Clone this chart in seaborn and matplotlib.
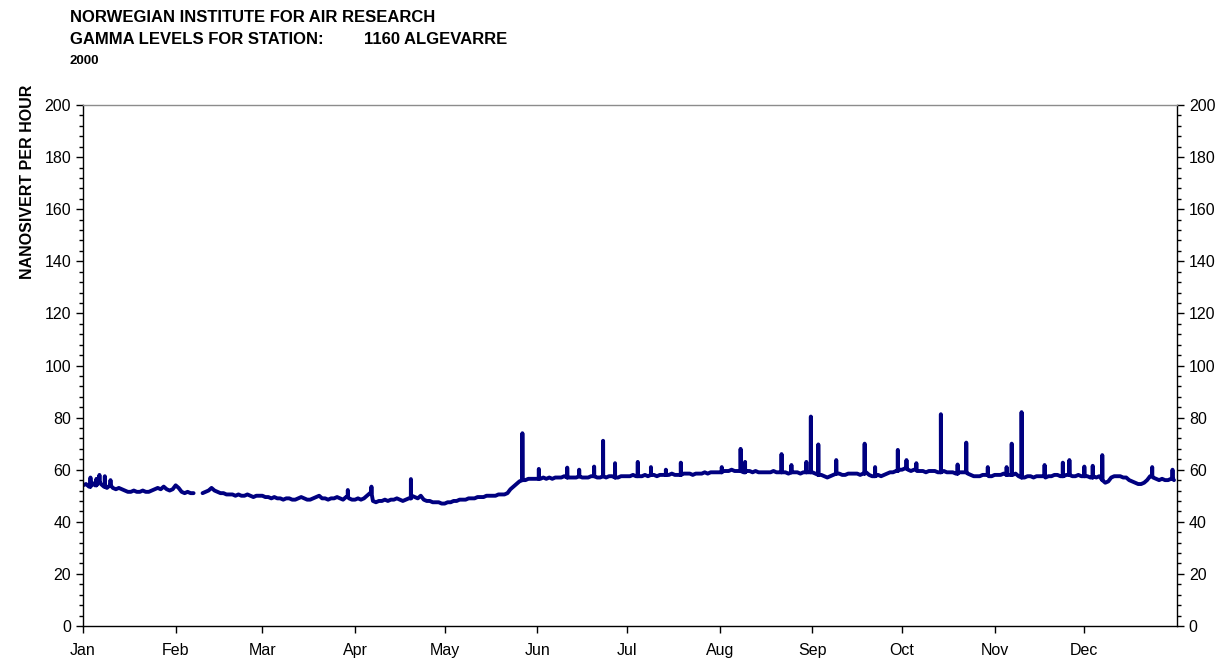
import numpy as np
import pandas as pd
import matplotlib
matplotlib.use("Agg")
import matplotlib.pyplot as plt
from matplotlib.ticker import MultipleLocator
import seaborn as sns

# ---- data (daily baseline values, nSv/h) ----
jan = [54, 54.5, 53.5, 55, 54, 55.5, 54.5, 53.5, 53, 54, 53, 52.5, 53, 52.5, 52, 51.5,
       51.5, 52, 51.5, 51.5, 52, 51.5, 51.5, 52, 52.5, 53, 52.5, 53.5, 52.5, 52, 52.5]
feb = [54, 53, 51.5, 51, 51.5, 51, 51, np.nan, np.nan, 51, 51.5, 52, 53, 52, 51.5, 51,
       51, 50.5, 50.5, 50.5, 50, 50.5, 50, 50, 50.5, 50, 49.5, 50, 50]
mar = [50, 49.5, 49.5, 49, 49.5, 49, 49, 48.5, 49, 49, 48.5, 48.5, 49, 49.5, 49, 48.5,
       48.5, 49, 49.5, 50, 49, 49, 48.5, 49, 49, 49.5, 49, 48.5, 49.5, 49, 48.5]
apr = [48.5, 49, 48.5, 49, 50, 51, 48, 47.5, 48, 48, 48.5, 48, 48.5, 48.5, 49, 48.5,
       48, 48.5, 49, 50, 49.5, 49, 50, 48.5, 48, 48, 47.5, 47.5, 47.5, 47]
may = [47, 47.5, 47.5, 48, 48, 48.5, 48.5, 48.5, 49, 49, 49, 49.5, 49.5, 49.5, 50, 50,
       50, 50, 50.5, 50.5, 50.5, 51, 52.5, 53.5, 54.5, 55.5, 56, 56, 56.5, 56.5, 56.5]
jun = [56.5, 56.5, 57, 56.5, 57, 56.5, 57, 57, 57, 57.5, 57, 57, 57, 57, 57.5, 57,
       57, 57, 57.5, 57.5, 57, 57, 57.5, 57, 57.5, 57.5, 57, 57, 57.5, 57.5]
jul = [57.5, 57.5, 58, 57.5, 57.5, 57.5, 58, 57.5, 58, 58, 57.5, 58, 58, 58, 58, 58.5,
       58, 58, 58, 58.5, 58.5, 58.5, 58, 58.5, 58.5, 58.5, 59, 58.5, 59, 59, 59]
aug = [59, 59.5, 59.5, 59.5, 60, 59.5, 59.5, 59.5, 59, 59.5, 59.5, 59, 59.5, 59, 59, 59,
       59, 59, 59.5, 59, 59, 59, 59, 58.5, 59, 59, 59, 58.5, 59, 59, 59]
sep = [59, 58.5, 58, 58, 57.5, 57, 57.5, 58, 58.5, 58.5, 58, 58, 58.5, 58.5, 58.5, 58.5,
       58, 58.5, 59, 58, 57.5, 57.5, 58, 57.5, 58, 58.5, 59, 59, 59.5, 60]
oct_ = [60, 60.5, 60, 59.5, 60, 59.5, 59.5, 59.5, 59, 59.5, 59.5, 59.5, 59, 59, 59.5, 59,
        59, 59, 58.5, 59, 59, 59, 58.5, 58, 57.5, 57.5, 57.5, 58, 58, 57.5, 57.5]
nov = [58, 58, 58, 58.5, 58, 58, 58, 58.5, 57.5, 57, 57, 57.5, 57.5, 57, 57.5, 57.5,
       57.5, 57, 57.5, 57.5, 58, 58, 57.5, 57.5, 58, 58, 57.5, 57.5, 58, 57.5]
dec = [57.5, 57.5, 57, 57.5, 57, 57.5, 56, 55, 55.5, 57, 57.5, 57.5, 57.5, 57, 57, 56,
       55.5, 55, 54.5, 54.5, 55, 56, 57.5, 57, 56.5, 56, 56.5, 56, 56, 56.5, 56]

# short spikes: day of year (0 = 1 Jan, fractional) and peak value
spike_days = [2.5, 4.5, 5.5, 7.3, 9.2, 88.6, 96.5, 109.7, 147.0,
              152.5, 162.0, 166.0, 171.0, 174.0, 178.0, 185.6, 190.0, 195.0, 200.0,
              213.7, 220.0, 221.5, 233.7, 237.0, 242.0, 243.5, 246.0, 252.0, 261.5,
              265.0, 272.6, 275.5, 278.8, 287.0, 292.6, 295.5, 302.7, 309.0, 310.7,
              314.0, 321.7, 327.8, 330.0, 335.0, 337.8, 341.0, 357.7, 364.5]
spike_peaks = [57, 56.5, 58, 57.5, 56, 52.2, 53.5, 56.4, 74,
               60.3, 60.8, 60, 61.2, 71.1, 62.5, 63, 61, 60, 62.7,
               61, 68, 63, 66, 61.8, 63, 80.4, 69.7, 63.7, 70,
               61, 67.6, 63.7, 62.5, 81.3, 62, 70.4, 61, 61, 70,
               82.1, 61.8, 62.7, 63.7, 61.2, 61.5, 65.6, 61, 60]

month_labels = ["Jan", "Feb", "Mar", "Apr", "May", "Jun",
                "Jul", "Aug", "Sep", "Oct", "Nov", "Dec"]
y_ticks = [0, 20, 40, 60, 80, 100, 120, 140, 160, 180, 200]

# ---- build table ----
daily = np.array(jan + feb + mar + apr + may + jun + jul + aug + sep + oct_ + nov + dec,
                 dtype=float)
start = pd.Timestamp("2000-01-01")
dates = start + pd.to_timedelta(np.arange(len(daily)), unit="D")
seg_ids = np.cumsum(np.isnan(daily))
rows = []
for d, v, s in zip(dates, daily, seg_ids):
    if not np.isnan(v):
        rows.append((d, v, int(s)))
half = pd.Timedelta(minutes=40)
for sd, pk in zip(spike_days, spike_peaks):
    i = int(sd)
    base = daily[i]
    if np.isnan(base):
        continue
    t = start + pd.Timedelta(days=sd)
    s = int(seg_ids[i])
    rows += [(t - half, base, s), (t, pk, s), (t + half, base, s)]
df = pd.DataFrame(rows, columns=["time", "value", "segment"]).sort_values("time")

# ---- plot ----
sns.set_theme(style="white")
plt.rcParams["font.family"] = ["Liberation Sans", "DejaVu Sans"]
plt.rcParams["text.color"] = "black"
plt.rcParams["axes.labelcolor"] = "black"

W, H = 1231, 664
fig = plt.figure(figsize=(W / 100, H / 100), dpi=100)
ax = fig.add_axes([83 / W, 1 - 626 / H, (1177 - 83) / W, (626 - 105) / H])

sns.lineplot(data=df, x="time", y="value", units="segment", estimator=None,
             color="#000080", linewidth=2.8, ax=ax, legend=False)

ax.set_xlim(start, pd.Timestamp("2001-01-01"))
ax.set_ylim(0, 200)
ax.set_xticks(pd.date_range("2000-01-01", periods=12, freq="MS"))
ax.set_xticklabels(month_labels)
ax.set_yticks(y_ticks)
ax.set_yticklabels([str(v) for v in y_ticks])
ax.yaxis.set_minor_locator(MultipleLocator(4))
ax.set_xlabel("")
ax.set_ylabel("")

ax.tick_params(axis="y", which="both", direction="out", left=True, right=True,
               labelleft=True, labelright=True, labelsize=11.5, colors="black", pad=3.5)
ax.tick_params(axis="y", which="major", length=5, width=1)
ax.tick_params(axis="y", which="minor", length=3, width=1)
ax.tick_params(axis="x", which="major", direction="out", bottom=True, length=5,
               width=1, labelsize=11.5, pad=7, colors="black")
for side in ["left", "right", "bottom"]:
    ax.spines[side].set_color("black")
    ax.spines[side].set_linewidth(1)
ax.spines["top"].set_color("#8c8c8c")
ax.spines["top"].set_linewidth(1)
ax.grid(False)

tx = 70 / W
fig.text(tx, 1 - 18 / H, "NORWEGIAN INSTITUTE FOR AIR RESEARCH",
         weight="bold", size=12, va="center", ha="left", color="black")
fig.text(tx, 1 - 39 / H, "GAMMA LEVELS FOR STATION:",
         weight="bold", size=12, va="center", ha="left", color="black")
fig.text(364 / W, 1 - 39 / H, "1160 ALGEVARRE",
         weight="bold", size=12, va="center", ha="left", color="black")
fig.text(tx, 1 - 61 / H, "2000", weight="bold", size=9.5, va="center", ha="left",
         color="black")
fig.text(28 / W, 1 - 85 / H, "NANOSIVERT PER HOUR", rotation=90, weight="bold",
         size=11.5, va="top", ha="center", color="black")

fig.savefig("out.png", dpi=100, facecolor="white")
